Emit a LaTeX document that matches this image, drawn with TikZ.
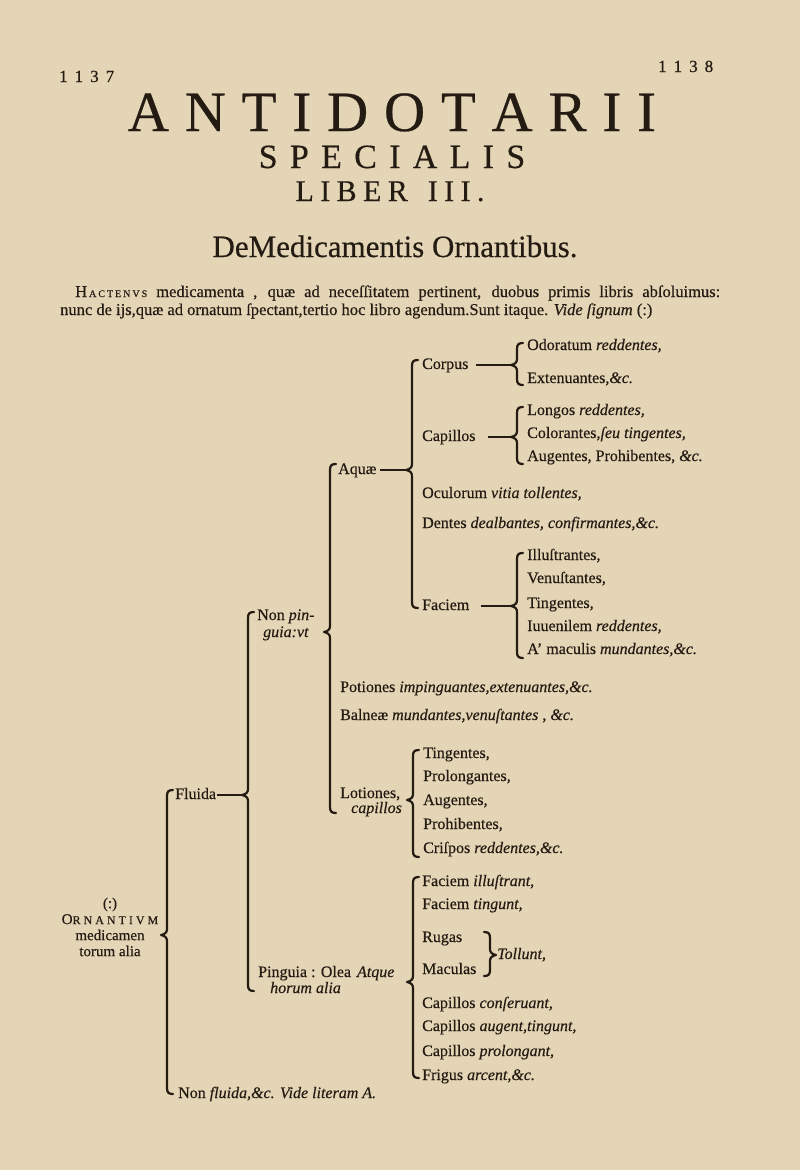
\documentclass[tikz,border=0pt]{standalone}
\usepackage{fontspec}
\setmainfont{Liberation Serif}[FakeBold=0.4]
\definecolor{paper}{HTML}{E3D5B5}
\definecolor{ink}{HTML}{241B13}
\newcommand\tf{\fontsize{16}{19}\selectfont}
\makeatletter
\newcommand\lsp[2]{{\def\lsp@g{\hspace{#1}}\let\lsp@first\relax\@tfor\lsp@c:=#2\do{\lsp@first\lsp@c\def\lsp@first{\lsp@g}}}}
\makeatother
\newcommand\brL[5]{%
 \coordinate (#1) at ({#2-6},#4);
 \draw[brc] ({#2+6},#3) .. controls ({#2+1.5},#3) and (#2,{#3+1.5}) .. (#2,{#3+6})
   -- (#2,{#4-6}) .. controls (#2,{#4-2.5}) and ({#2-2},{#4-0.8}) .. (#1)
   .. controls ({#2-2},{#4+0.8}) and (#2,{#4+2.5}) .. (#2,{#4+6})
   -- (#2,{#5-6}) .. controls (#2,{#5-1.5}) and ({#2+1.5},#5) .. ({#2+6},#5);}
\newcommand\brR[5]{%
 \coordinate (#1) at ({#2+6},#4);
 \draw[brc] ({#2-6},#3) .. controls ({#2-1.5},#3) and (#2,{#3+1.5}) .. (#2,{#3+6})
   -- (#2,{#4-6}) .. controls (#2,{#4-2.5}) and ({#2+2},{#4-0.8}) .. (#1)
   .. controls ({#2+2},{#4+0.8}) and (#2,{#4+2.5}) .. (#2,{#4+6})
   -- (#2,{#5-6}) .. controls (#2,{#5-1.5}) and ({#2-1.5},#5) .. ({#2-6},#5);}
\begin{document}
\begin{tikzpicture}[x=1pt,y=-1pt,
  txt/.style={anchor=base west,inner sep=0pt,text=ink,font=\tf},
  ttl/.style={anchor=base,inner sep=0pt,text=ink},
  brc/.style={draw=ink,line width=2.2pt,line cap=round,line join=round},
  dsh/.style={draw=ink,line width=1.7pt}]
\fill[paper] (0,0) rectangle (800,1170);
\useasboundingbox (0,0) rectangle (800,1170);
% header
\node[txt,font=\fontsize{17}{17}\selectfont] (p1137) at (59,82) {\lsp{7pt}{1137}};
\node[txt,font=\fontsize{17}{17}\selectfont] (p1138) at (658,72) {\lsp{7pt}{1138}};
\node[ttl,font=\fontsize{57}{57}\selectfont] (t1) at (392,131) {\lsp{15.8pt}{ANTIDOTARII}};
\node[ttl,font=\fontsize{34}{34}\selectfont] (t2) at (392,168) {\lsp{12.3pt}{SPECIALIS}};
\node[ttl,font=\fontsize{30}{30}\selectfont] (t3) at (390,201) {\lsp{6.4pt}{LIBER}\hspace{20pt}\lsp{6.4pt}{III.}};
\node[ttl,font=\fontsize{31}{31}\selectfont] (t4) at (395,257) {DeMedicamentis Ornantibus.};
\node[txt,font=\fontsize{16.5}{18}\selectfont] (l1) at (75,297) {\makebox[645pt][s]{H\hspace{2pt}{\fontsize{10}{10}\selectfont\lsp{2pt}{ACTENVS}} medicamenta , quæ ad neceſſitatem pertinent, duobus primis libris abſoluimus:}};
\node[txt,font=\fontsize{16.5}{18}\selectfont] (l2) at (60,315) {nunc de ijs,quæ ad ornatum ſpectant,tertio hoc libro agendum.Sunt itaque. \textit{Vide ſignum} (:)};
% root
\node[anchor=center,inner sep=0pt,text=ink,font=\fontsize{15}{16}\selectfont,align=center] (root) at (110,927)
 {(:)\\[0pt]O{\fontsize{12}{12}\selectfont\lsp{3pt}{RNANTIVM}}\\[0pt]medicamen\\[0pt]torum alia};
% level 0 children
\node[txt] (fluida) at (175,799) {Fluida};
\node[txt] (nonfl) at (178,1098) {Non \textit{fluida,\&c. Vide literam A.}};
% level 1
\node[txt] (nonpin) at (257,620) {Non \textit{pin-}};
\node[txt] (nonpin2) at (263,637) {\textit{guia:vt}};
\node[txt] (pinguia) at (258,977) {Pinguia : Olea\hspace{6pt}\textit{Atque}};
\node[txt] (pinguia2) at (270,993) {\textit{horum alia}};
% level 2
\node[txt] (aquae) at (338,474) {Aquæ};
\node[txt] (potiones) at (340,692) {Potiones \textit{impinguantes,extenuantes,\&c.}};
\node[txt] (balneae) at (340,720) {Balneæ \textit{mundantes,venuſtantes , \&c.}};
\node[txt] (lotiones) at (340,798) {Lotiones,};
\node[txt] (lotiones2) at (351,813) {\textit{capillos}};
% level 3 (Aquae)
\node[txt] (corpus) at (422,369) {Corpus};
\node[txt] (capillos) at (422,441) {Capillos};
\node[txt] (oculorum) at (422,498) {Oculorum \textit{vitia tollentes,}};
\node[txt] (dentes) at (422,528) {Dentes \textit{dealbantes, confirmantes,\&c.}};
\node[txt] (faciem) at (422,610) {Faciem};
% level 4
\node[txt] (odor) at (527,350) {Odoratum \textit{reddentes,}};
\node[txt] (exten) at (527,383) {Extenuantes,\textit{\&c.}};
\node[txt] (longos) at (527,415) {Longos \textit{reddentes,}};
\node[txt] (color) at (527,438) {Colorantes,\textit{ſeu tingentes,}};
\node[txt] (augent) at (527,461) {Augentes, Prohibentes, \textit{\&c.}};
\node[txt] (illus) at (527,560) {Illuſtrantes,};
\node[txt] (venus) at (527,583) {Venuſtantes,};
\node[txt] (tingf) at (527,608) {Tingentes,};
\node[txt] (iuuen) at (527,631) {Iuuenilem \textit{reddentes,}};
\node[txt] (macul) at (527,654) {A' maculis \textit{mundantes,\&c.}};
% lotiones children
\node[txt] (lt1) at (423,758) {Tingentes,};
\node[txt] (lt2) at (423,781) {Prolongantes,};
\node[txt] (lt3) at (423,805) {Augentes,};
\node[txt] (lt4) at (423,829) {Prohibentes,};
\node[txt] (lt5) at (423,853) {Criſpos \textit{reddentes,\&c.}};
% pinguia children
\node[txt] (pg1) at (422,886) {Faciem \textit{illuſtrant,}};
\node[txt] (pg2) at (422,909) {Faciem \textit{tingunt,}};
\node[txt] (pg3) at (422,942) {Rugas};
\node[txt] (pg4) at (422,974) {Maculas};
\node[txt] (tollunt) at (497,959) {\textit{Tollunt,}};
\node[txt] (pg5) at (422,1008) {Capillos \textit{conſeruant,}};
\node[txt] (pg6) at (422,1031) {Capillos \textit{augent,tingunt,}};
\node[txt] (pg7) at (422,1056) {Capillos \textit{prolongant,}};
\node[txt] (pg8) at (422,1080) {Frigus \textit{arcent,\&c.}};
% braces
\brL{kCorpus}{517}{343}{365}{385}
\brL{kCap}{517}{407}{437}{464}
\brL{kFac}{517}{553}{606}{658}
\brL{kAq}{412}{360}{470}{608}
\brL{kNp}{330}{464}{632}{813}
\brL{kLot}{413}{750}{800}{857}
\brL{kFl}{248}{612}{795}{991}
\brL{kPi}{413}{877}{982}{1078}
\brL{kOr}{167}{790}{935}{1094}
\brR{kTo}{490}{932}{955}{976}
% dashes
\draw[dsh] ([shift={(7,-4)}]corpus.base east) -- (kCorpus);
\draw[dsh] ([shift={(12,-4)}]capillos.base east) -- (kCap);
\draw[dsh] ([shift={(12,-4)}]faciem.base east) -- (kFac);
\draw[dsh] ([shift={(3,-4)}]aquae.base east) -- (kAq);
\draw[dsh] ([shift={(1,-4)}]fluida.base east) -- (kFl);
\end{tikzpicture}
\end{document}
